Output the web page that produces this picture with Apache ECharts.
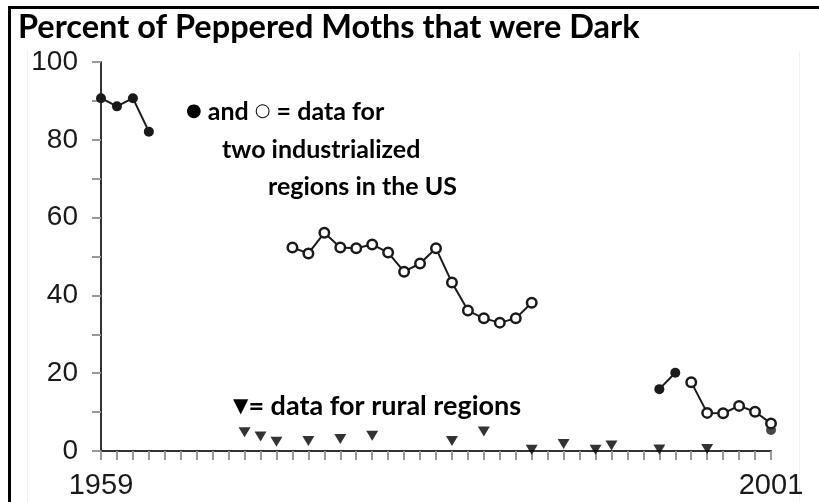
<!DOCTYPE html>
<html>
<head>
<meta charset="utf-8">
<script src="https://cdn.jsdelivr.net/npm/echarts@6/dist/echarts.min.js"></script>
<style>
html,body{margin:0;padding:0;background:#fff;}
#c{width:819px;height:502px;}
</style>
</head>
<body>
<div id="c"></div>
<script>
// ---- data ----
var titleText = 'Percent of Peppered Moths that were Dark';
var xMin = 1959, xMax = 2001;
var yTicks = [0, 20, 40, 60, 80, 100];

var darkYearsA = [1959, 1960, 1961, 1962];
var darkValsA  = [90.7, 88.6, 90.7, 82.1];

var openYearsA = [1971, 1972, 1973, 1974, 1975, 1976, 1977, 1978, 1979, 1980, 1981, 1982, 1983, 1984, 1985, 1986];
var openValsA  = [52.3, 50.8, 56.1, 52.3, 52.1, 53.1, 51.0, 46.1, 48.2, 52.1, 43.3, 36.1, 34.1, 33.0, 34.1, 38.1];

var darkYearsB = [1994, 1995];
var darkValsB  = [15.9, 20.1];

var darkYearsC = [2001];
var darkValsC  = [5.4];

var openYearsB = [1996, 1997, 1998, 1999, 2000, 2001];
var openValsB  = [17.7, 9.8, 9.7, 11.6, 10.1, 7.1];

var ruralYears = [1968, 1969, 1970, 1972, 1974, 1976, 1981, 1983, 1986, 1988, 1990, 1991, 1994, 1997];
var ruralVals  = [4.8, 3.7, 2.4, 2.6, 3.1, 3.9, 2.6, 5.0, 0.3, 1.8, 0.3, 1.4, 0.4, 0.5];

var noteSym1 = '\u25CF', noteSym2 = '\u25CB', ruralSym = '\u25BC';
var noteLine1 = ' and ', noteLine1b = ' = data for';
var noteLine2 = 'two industrialized';
var noteLine3 = 'regions in the US';
var ruralNote = '= data for rural regions';

function pairs(xs, ys) { return xs.map(function (x, i) { return [x, ys[i]]; }); }

var ink = '#1a1a1a';
var boldFont = 'Lato, "Open Sans", sans-serif';
var noteSize = 25;

var chart = echarts.init(document.getElementById('c'), null, {renderer: 'canvas'});

var lineSeries = function (data, open) {
  return {
    type: 'line', data: data, symbol: 'circle', symbolSize: open ? 9.5 : 10,
    lineStyle: {color: ink, width: 2},
    itemStyle: open ? {color: '#fff', borderColor: ink, borderWidth: 2.5} : {color: ink, borderWidth: 0},
    z: 3, animation: false
  };
};

var richNote = {
  t: {fontFamily: boldFont, fontWeight: 'bold', fontSize: noteSize, fill: '#000'},
  r: {fontFamily: boldFont, fontWeight: 'bold', fontSize: 27, fill: '#000'},
  s: {fontFamily: '"DejaVu Sans", sans-serif', fontSize: 18, fill: '#000'},
  v: {fontFamily: '"DejaVu Sans", sans-serif', fontSize: 20, fill: '#000'}
};

chart.setOption({
  animation: false,
  grid: {left: 101, right: 48, top: 62, bottom: 51, containLabel: false},
  xAxis: {
    type: 'value', min: xMin, max: xMax, interval: 1,
    axisLine: {show: true, onZero: false, lineStyle: {color: '#333', width: 2}},
    axisTick: {show: true, inside: false, length: 9, lineStyle: {color: '#999', width: 2}},
    splitLine: {show: false},
    axisLabel: {
      show: true, margin: 20, fontSize: 29, color: ink, fontFamily: '"Liberation Sans", Arial, sans-serif',
      showMinLabel: true, showMaxLabel: true,
      formatter: function (v) { return (v === xMin || v === xMax) ? String(v) : ''; }
    }
  },
  yAxis: {
    type: 'value', min: 0, max: 100, interval: 10,
    axisLine: {show: true, lineStyle: {color: '#333', width: 2}},
    axisTick: {show: true, length: 9, lineStyle: {color: '#999', width: 2}},
    splitLine: {show: false},
    axisLabel: {
      margin: 23, fontSize: 28, color: ink, fontFamily: '"Liberation Sans", Arial, sans-serif',
      padding: [8, 0, 0, 0],
      formatter: function (v) { return yTicks.indexOf(v) >= 0 ? String(v) : ''; }
    }
  },
  series: [
    lineSeries(pairs(darkYearsA, darkValsA), false),
    lineSeries(pairs(openYearsA, openValsA), true),
    lineSeries(pairs(darkYearsB, darkValsB), false),
    {type: 'scatter', data: pairs(darkYearsC, darkValsC), symbol: 'circle', symbolSize: 10,
     itemStyle: {color: ink}, z: 2},
    lineSeries(pairs(openYearsB, openValsB), true),
    {type: 'scatter', data: pairs(ruralYears, ruralVals), symbol: 'triangle', symbolSize: [12, 10],
     symbolRotate: 180, itemStyle: {color: '#000'}, z: 4}
  ],
  graphic: [
    {type: 'rect', shape: {x: 8, y: 6, width: 900, height: 3}, style: {fill: '#000'}, silent: true},
    {type: 'rect', shape: {x: 8, y: 6, width: 3, height: 600}, style: {fill: '#000'}, silent: true},
    {type: 'rect', shape: {x: 27, y: 50, width: 1, height: 460}, style: {fill: '#f1f1f1'}, silent: true, z: -1},
    {type: 'rect', shape: {x: 799, y: 52, width: 1, height: 460}, style: {fill: '#f1f1f1'}, silent: true, z: -1},
    {type: 'text', left: 18, top: 11, style: {text: titleText, font: 'bold 32.5px ' + boldFont, fill: '#000'}},
    {type: 'text', left: 186, top: 99, style: {
      text: '{s|' + noteSym1 + '}{t|' + noteLine1 + '}{s|' + noteSym2 + '}{t|' + noteLine1b + '}', rich: richNote}},
    {type: 'text', left: 222, top: 137, style: {text: noteLine2, font: 'bold ' + noteSize + 'px ' + boldFont, fill: '#000'}},
    {type: 'text', left: 268, top: 174, style: {text: noteLine3, font: 'bold ' + noteSize + 'px ' + boldFont, fill: '#000'}},
    {type: 'text', left: 233, top: 393, style: {
      text: '{v|' + ruralSym + '}{r|' + ruralNote + '}', rich: richNote}}
  ]
});
</script>
</body>
</html>
